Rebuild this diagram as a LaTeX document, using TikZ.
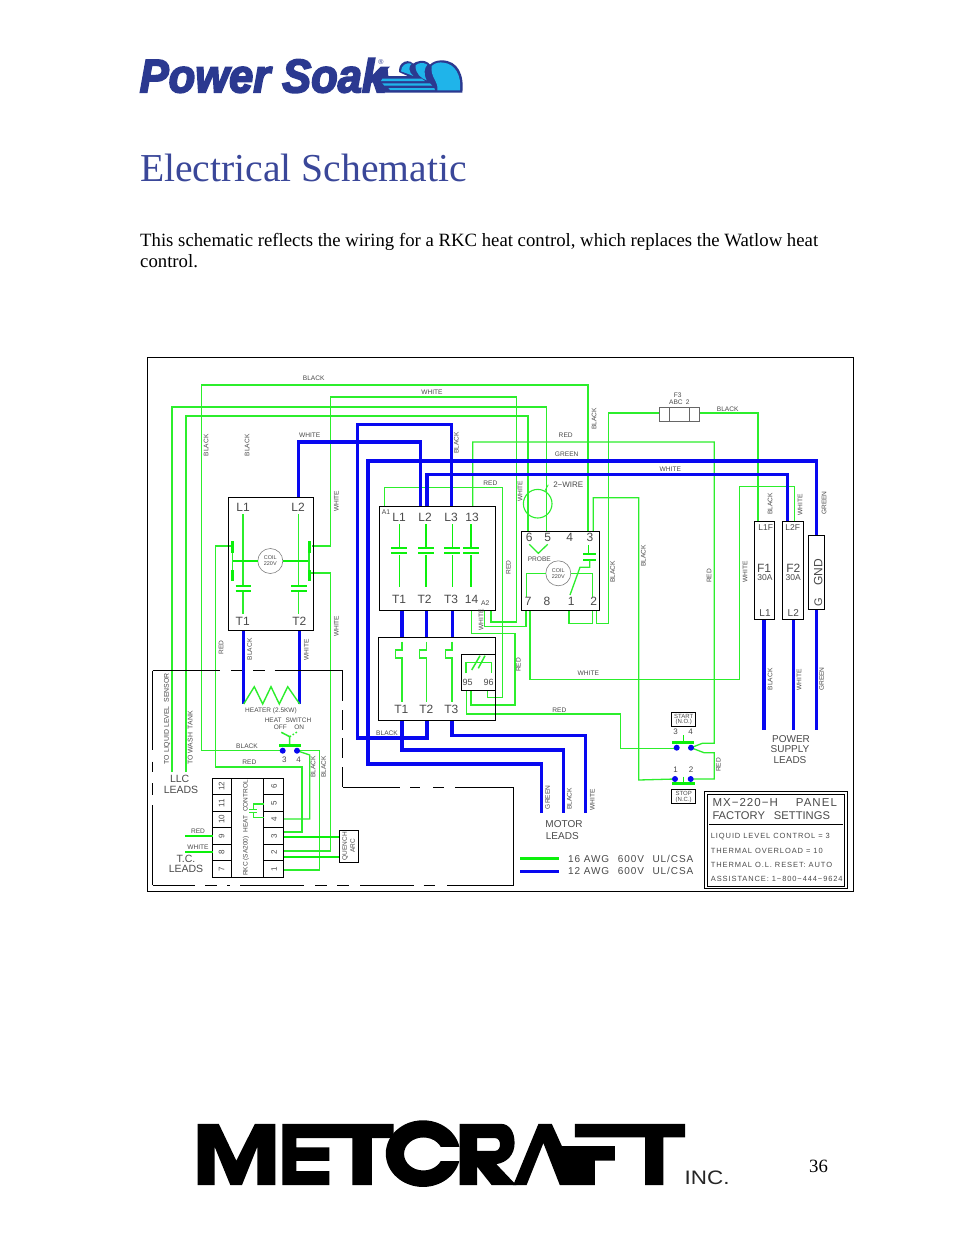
\documentclass[tikz,border=0pt]{standalone}
\usepackage{fontspec}
\setmainfont{Liberation Serif}
\newfontfamily\cad{Liberation Sans}
\newfontfamily\cadw[LetterSpace=9]{Liberation Sans}
\newfontfamily\cadm[LetterSpace=12]{Liberation Sans}
\newfontfamily\logof[FakeBold=4]{Liberation Sans}
\usetikzlibrary{fit}
\definecolor{wg}{HTML}{2CEE2C}
\definecolor{wt}{HTML}{0CF00C}
\definecolor{wb}{HTML}{0808F0}
\definecolor{tx}{HTML}{4A4A4A}
\definecolor{navy}{HTML}{2B3990}
\definecolor{cyanw}{HTML}{1FB4EA}
\definecolor{ttl}{HTML}{3A4799}
\newcounter{tn}
% small label, big label, wide label; optional first argument for extra options
\newcommand\Tx[4][]{\stepcounter{tn}\node (txt\arabic{tn}) [inner sep=0,text=tx,font={\cad\fontsize{#3}{#3}\selectfont},#1] at (#2) {#4};}
\newcommand\Lb[2]{\Tx{#1}{6.6}{#2}}
\newcommand\Lr[2]{\Tx[rotate=90]{#1}{6.6}{#2}}
\newcommand\Bg[2]{\Tx{#1}{12}{#2}}
\tikzset{
 w/.style={draw=wg,line width=1.3pt,line join=miter},
 wth/.style={draw=wt,line width=2.4pt},
 wbl/.style={draw=wb,line width=3.4pt,line join=miter},
 pole/.style={draw=wt,line width=1.5pt},
 bar/.style={draw=wt,line width=1.9pt},
 nc/.style={draw=wg,line width=1.1pt},
 pbox/.style={draw=black,line width=.9pt,inner sep=0,fill=none},
 dsh/.style={draw=black,line width=.8pt},
 coil/.style={draw=gray,line width=.6pt,circle,inner sep=0,minimum size=25pt,align=center,text=tx,font={\cad\fontsize{5.5}{6}\selectfont}},
 dot/.style={fill=wb,circle,inner sep=0,minimum size=6pt},
}
\begin{document}
\begin{tikzpicture}[x=1pt,y=-1pt]
\useasboundingbox (0,0) rectangle (954,1235);
\fill[white] (0,0) rectangle (954,1235);

% ---------- Power Soak logo
\node (plogo) [anchor=base west,inner sep=0,text=navy] at (139.5,92.3) {\logof\bfseries\itshape\fontsize{47}{47}\selectfont\scalebox{.925}[1]{Power Soak}};
\node (preg) [inner sep=0,text=navy,font={\cad\fontsize{7}{7}\selectfont}] at (381,62.5) {®};
\begin{scope}[shift={(375,52)},scale=.3333]
 \fill[navy] (5,122) -- (262,122) .. controls (268,70) and (250,25) .. (200,25)
   .. controls (185,25) and (172,30) .. (165,38) .. controls (158,28) and (145,25) .. (135,27)
   .. controls (125,28) and (118,32) .. (115,35) .. controls (105,25) and (90,25) .. (80,35)
   .. controls (72,43) and (72,55) .. (72,60) -- (98,72) -- (40,72) -- (38,50) -- (0,82) -- cycle;
 \fill[cyanw] (78,58) .. controls (78,40) and (95,30) .. (110,35) .. controls (100,42) and (100,60) .. (115,72) -- (100,66) -- cycle;
 \fill[cyanw] (122,40) .. controls (130,32) and (145,30) .. (157,38) .. controls (148,48) and (145,65) .. (155,85) .. controls (140,80) and (120,65) .. (122,40) -- cycle;
 \fill[cyanw] (170,42) .. controls (180,32) and (195,30) .. (205,32) .. controls (240,35) and (260,70) .. (255,115) -- (187,115) .. controls (192,90) and (165,75) .. (170,42) -- cycle;
 \fill[cyanw] (22,80) -- (140,80) -- (150,87) -- (18,87) -- cycle;
 \fill[cyanw] (22,94) -- (165,94) -- (172,101) -- (28,101) -- cycle;
 \fill[cyanw] (40,108) -- (178,108) -- (180,114) -- (45,114) -- cycle;
\end{scope}

% ---------- page text
\node (title) [anchor=base west,inner sep=0,text=ttl,font=\fontsize{39.6}{39.6}\selectfont] at (140,181) {Electrical Schematic};
\node (para1) [anchor=base west,inner sep=0,font=\fontsize{18.75}{18.75}\selectfont] at (140,246) {This schematic reflects the wiring for a RKC heat control, which replaces the Watlow heat};
\node (para2) [anchor=base west,inner sep=0,font=\fontsize{18.75}{18.75}\selectfont] at (140,267) {control.};
\node (pnum) [anchor=base west,inner sep=0,font=\fontsize{18.75}{18.75}\selectfont] at (809,1172.5) {36};

% ---------- Metcraft logo
\begin{scope}[shift={(190,1115)},scale=.3509]
 \fill[black,even odd rule] (664,110) ellipse [x radius=106,y radius=95] (665,111) ellipse [x radius=55,y radius=47];
 \fill[white] (695,91) -- (775,91) -- (775,131) -- (695,131) -- cycle;
 % M
 \fill[black] (22,25) -- (82,25) -- (132,130) -- (185,25) -- (243,25) -- (243,200) -- (192,200) -- (192,90) -- (148,200) -- (115,200) -- (70,90) -- (70,200) -- (22,200) -- cycle;
 % E and T
 \fill[black] (263,25) -- (580,25) -- (580,66) -- (518,66) -- (518,200) -- (463,200) -- (463,66) -- (303,66) -- (303,92) -- (397,92) -- (397,131) -- (303,131) -- (303,160) -- (397,160) -- (397,200) -- (263,200) -- cycle;
 % R
 \fill[black,even odd rule] (768,25) -- (885,25) .. controls (912,25) and (925,50) .. (925,80) .. controls (925,112) and (905,135) .. (873,140) -- (930,200) -- (860,200) -- (818,147) -- (818,200) -- (768,200) -- cycle
   (818,66) -- (870,66) .. controls (888,66) and (888,102) .. (870,102) -- (818,102) -- cycle;
 % A with the middle bar and the stem of F
 \fill[black] (921,200) -- (993,25) -- (1031,25) -- (1060,89) -- (1211,89) -- (1211,130) -- (1154,130) -- (1154,200) -- (1054,200) -- (1007,80) -- (959,200) -- cycle;
 % top bar of F and T
 \fill[black] (1097,25) -- (1411,25) -- (1411,64) -- (1349,64) -- (1349,200) -- (1297,200) -- (1297,64) -- (1097,64) -- cycle;
\end{scope}
\node (inc) [anchor=base west,inner sep=0,font={\cad\fontsize{19.5}{19.5}\selectfont},text=black!85] at (684.5,1184) {\scalebox{1.15}[1]{INC.}};

% ---------- frame
\node (frame) [fit={(147.5,357.5)(853.5,891)},draw=black,line width=.9pt,inner sep=0] {};

% ---------- terminals
\coordinate (sw3) at (282.7,750.7); \coordinate (sw4) at (297,750.7);
\coordinate (R6) at (528,531.3); \coordinate (R5) at (546.7,531.3); \coordinate (R3) at (588,531.3); \coordinate (R3b) at (593.3,531.3);
\coordinate (R7) at (526,610.3); \coordinate (R7b) at (530,610.3); \coordinate (R1) at (569,610.3); \coordinate (R2) at (592.7,610.3); \coordinate (R2b) at (596.7,610.3);
\coordinate (A1) at (384.3,506.7); \coordinate (C13) at (472.7,506.7); \coordinate (C14) at (471.7,610.3); \coordinate (A2) at (491,610.3); \coordinate (A2b) at (484.3,610.3);
\coordinate (O95) at (471,690.3); \coordinate (O95b) at (466.7,690.3); \coordinate (O96) at (487.7,690.3);
\coordinate (k4) at (283.7,819); \coordinate (k3) at (283.7,832); \coordinate (k3b) at (283.7,836.7); \coordinate (k2) at (283.7,851); \coordinate (k2b) at (283.7,856.7); \coordinate (k1) at (283.7,870);
\coordinate (st3) at (676.7,748.7); \coordinate (st4) at (691,747.7); \coordinate (sp1) at (675,779); \coordinate (sp2) at (690.7,779);
\coordinate (hL) at (232,546); \coordinate (hR) at (312,546); \coordinate (hR2) at (310,573);
\coordinate (lls) at (172,772); \coordinate (wtk) at (186,772);
\coordinate (F1t) at (758,521.3); \coordinate (F2t) at (794.3,521.3); \coordinate (F3l) at (659.3,413); \coordinate (F3r) at (699.3,413);

% ---------- thin green wires
\draw[w] (sw3) -- (201.5,750.7) -- (201.5,385) -- (588,385) -- (R3);
\draw[w] (lls) -- (172,407) -- (546.7,407) -- (R5);
\draw[w] (wtk) -- (186,416) -- (528,416) -- (R6);
\draw[w] (A2) -- (491,622) -- (516.7,622) -- (516.7,397) -- (330.7,397) -- (330.7,546) -- (hR);
\draw[w] (hL) -- (215.5,546) -- (215.5,767) -- (302,767) -- (302,832) -- (k3);
\draw[w] (hR2) -- (330.7,573) -- (330.7,851) -- (k2);
\draw[w] (F3l) -- (608.7,413) -- (608.7,623.7) -- (596.7,623.7) -- (R2b);
\draw[w] (F3r) -- (758,413) -- (F1t);
\draw[w] (R3b) -- (593.3,497.7) -- (638.7,497.7) -- (638.7,780) -- (sp1);
\draw[w] (R1) -- (569,623.7) -- (592.7,623.7) -- (R2);
\draw[w] (C13) -- (472.7,442) -- (714.3,442) -- (714.3,743.3) -- (702.3,743.3) -- (st4);
\draw[w] (st4) -- (704,752.7) -- (714.3,752.7) -- (714.3,779) -- (sp2);
\draw[w] (O96) -- (487.7,697.7) -- (502.3,697.7) -- (502.3,487.3) -- (384.3,487.3) -- (A1);
\draw[w] (C14) -- (471.7,633.3) -- (515,633.3) -- (515,705) -- (471,705) -- (O95);
\draw[w] (A2b) -- (484.3,626.7) -- (526,626.7) -- (R7);
\draw[w] (R7b) -- (530,679.3) -- (739.3,679.3) -- (739.3,486.3) -- (794.3,486.3) -- (F2t);
\draw[w] (O95b) -- (466.7,714) -- (620.7,714) -- (620.7,748.7) -- (st3);
\draw[w] (sw4) -- (309.7,755) -- (309.7,819) -- (k4);
\draw[w] (sw4) -- (319.3,750.7) -- (319.3,870) -- (k1);
% 2-wire probe
\node (pcirc) [draw=wg,line width=1.1pt,circle,inner sep=0,minimum size=28.6pt] at (537.7,503.7) {};
\coordinate (pl) at (548.3,484.7);
\draw[w,line width=.8pt] (pcirc) -- (pl);

% ---------- thick blue wires
\coordinate (K1T1) at (243.7,630.3); \coordinate (K1T2) at (299.7,630.3); \coordinate (K1L2) at (298.7,497.3);
\coordinate (KL1) at (420.3,506.7); \coordinate (KL2) at (427,506.7); \coordinate (KL3) at (451.3,506.7);
\coordinate (KT1) at (402,610.3); \coordinate (KT2) at (426.7,610.3); \coordinate (KT3) at (452.7,610.3);
\coordinate (OL1) at (402,637.3); \coordinate (OL2) at (426.7,637.3); \coordinate (OL3) at (452.7,637.3);
\coordinate (OT1) at (402,720); \coordinate (OT2) at (427,720); \coordinate (OT3) at (452,720);
\coordinate (gtop) at (816.7,535.3); \coordinate (gbot) at (816.7,609.3); \coordinate (f1b) at (764,619.3); \coordinate (f2b) at (793.3,619.3); \coordinate (f2t) at (787.7,521.3);
\coordinate (h1) at (243.7,704); \coordinate (h2) at (299.7,704);
\draw[wbl] (K1L2) -- (298.7,442) -- (420.3,442) -- (KL1);
\draw[wbl] (OT2) -- (427,738) -- (357.3,738) -- (357.3,424.7) -- (451.3,424.7) -- (KL3);
\draw[wbl] (541.7,813) -- (541.7,764) -- (368,764) -- (368,461) -- (816.7,461) -- (gtop);
\draw[wbl] (KL2) -- (427,474.5) -- (787.7,474.5) -- (f2t);
\draw[wbl] (OT1) -- (402,750) -- (563.3,750) -- (563.3,813);
\draw[wbl] (OT3) -- (452,735.7) -- (585.7,735.7) -- (585.7,813);
\draw[wbl] (K1T1) -- (h1);
\draw[wbl] (K1T2) -- (h2);
\draw[wbl] (KT1) -- (OL1);
\draw[wbl] (KT2) -- (OL2);
\draw[wbl] (KT3) -- (OL3);
\draw[wbl] (f1b) -- (764,729.5);
\draw[wbl] (f2b) -- (793.3,729.5);
\draw[wbl] (gbot) -- (816.7,729.5);

% ---------- heater
\draw[w,line width=1.4pt] (h1) -- (254.3,686.7) -- (262.7,704) -- (271,686.7) -- (279.3,704) -- (287.7,686.7) -- (h2);

% ---------- boxes
\node (boxA) [pbox,fit={(228.7,497.3)(313.3,630.3)}] {};
\node (boxB) [pbox,fit={(379.3,506.7)(495.3,610.3)}] {};
\node (boxC) [pbox,fit={(378.7,637.3)(495.3,720)}] {};
\node (boxO) [pbox,fit={(461.3,654.3)(495.3,690.3)}] {};
\node (boxR) [pbox,fit={(521.7,531.3)(599.3,610.3)}] {};
\node (fuse1) [pbox,fit={(754.3,521.3)(774.7,619.3)}] {};
\node (fuse2) [pbox,fit={(782.3,521.3)(803.3,619.3)}] {};
\node (gndb) [pbox,fit={(808.3,535.3)(824.7,609.3)}] {};
\node (f3a) [draw=gray!80!black,line width=.7pt,fit={(659.3,407.3)(669.3,421.3)},inner sep=0] {};
\node (f3b) [draw=gray!80!black,line width=.7pt,fit={(669.3,407.3)(689.3,421.3)},inner sep=0] {};
\node (f3c) [draw=gray!80!black,line width=.7pt,fit={(689.3,407.3)(699.3,421.3)},inner sep=0] {};

% ---------- contactor 1 (heater)
\foreach \x in {243,298.7} {
 \draw[nc] (\x,514.3) -- (\x,585);
 \draw[nc] (\x,592) -- (\x,614.3);
 \draw[bar] (\x-7.5,586) -- (\x+8,586);
 \draw[bar] (\x-7.5,591) -- (\x+8,591);
}
\node (coilA) [coil] at (270.3,561) {COIL\\220V};
\draw[pole] (coilA) -- (232.3,561);
\draw[pole] (coilA) -- (309,561);
\foreach \x in {232.3,309} {
 \draw[line width=3pt,draw=wt] (\x,541) -- (\x,553);
 \draw[nc] (\x,553) -- (\x,570.3);
 \draw[line width=3pt,draw=wt] (\x,570.3) -- (\x,581);
}

% ---------- contactor 2
\foreach \x in {399.3,426,452.3,471} {
 \draw[pole] (\x,524.3) -- (\x,546.7);
 \draw[pole] (\x,555) -- (\x,587.3);
}
\foreach \x in {399.3,426,452.3} {
 \draw[bar] (\x-8,548.3) -- (\x+8,548.3);
 \draw[bar] (\x-8,553.3) -- (\x+8,553.3);
}
\draw[bar] (463,548.3) -- (479,548.3);
\draw[bar] (463,553.3) -- (479,553.3);

% ---------- overload
\foreach \x in {402,426.3,452} {
 \draw[nc] (\x,641.7) -- (\x,650) -- (\x-6.5,650) -- (\x-6.5,658) -- (\x,658) -- (\x,701.7);
}
\draw[w] (466,673.3) -- (466,662.7) -- (491.7,662.7) -- (491.7,673.3);
\draw[w,line width=1.5pt] (471.7,670) -- (480,655.7);
\draw[w,line width=1.5pt] (478.3,668.3) -- (485,655.7);

% ---------- relay
\draw[pole] (588.3,545) -- (588.3,553.3);
\draw[bar] (583.3,554) -- (596,554);
\draw[bar] (583.3,560) -- (596,560);
\draw[w] (589.7,560) -- (589.7,567.3) -- (580,567.3) -- (570,595);
\draw[w] (529.3,544.3) -- (538.3,553.3) -- (547.7,544.3);
\node (coilR) [coil] at (558.3,573.3) {COIL\\220V};
\draw[w] (coilR) -- (526.7,573.3) -- (526.7,596.7);
\draw[w] (coilR) -- (592.3,573.3) -- (592.3,596.7);

% ---------- switches
\draw[w,line width=1.5pt] (289.7,745.7) -- (289.7,736.7) -- (281.3,732.3);
\draw[w,line width=1.5pt,dotted] (289.7,736.7) -- (297.5,731.7);
\draw[line width=3pt,draw=wt] (279.3,745.7) -- (301,745.7);
\draw[line width=1.4pt,draw=wt] (683.3,735) -- (683.3,742.3);
\draw[line width=2.8pt,draw=wt] (672.3,742.3) -- (694.3,742.3);
\draw[line width=1.4pt,draw=wt] (683.3,776.7) -- (683.3,783.3);
\draw[line width=2.8pt,draw=wt] (672.3,783.3) -- (695,783.3);
\node (d1) [dot] at (sw3) {};
\node (d2) [dot] at (sw4) {};
\node (d3) [dot] at (676.7,747.7) {};
\node (d4) [dot] at (st4) {};
\node (d5) [dot] at (sp1) {};
\node (d6) [dot] at (sp2) {};
\node (startb) [pbox,fit={(671.7,712.3)(695.7,726.3)},line width=.8pt] {};
\node (stopb) [pbox,fit={(671.7,789.3)(695.7,803.3)},line width=.8pt] {};

% ---------- RKC block
\node (rkc) [pbox,fit={(212.7,778.3)(283.7,877.3)}] {};
\coordinate (rk1) at (231.7,778.3); \coordinate (rk2) at (231.7,877.3);
\coordinate (rk3) at (263.7,778.3); \coordinate (rk4) at (263.7,877.3);
\draw[line width=.8pt] (rk1) -- (rk2);
\draw[line width=.8pt] (rk3) -- (rk4);
\foreach \y in {794.3,811.7,827.3,844.3,860.7} {
 \draw[line width=.8pt] (212.7,\y) -- (231.7,\y);
 \draw[line width=.8pt] (263.7,\y) -- (283.7,\y);
}
\draw[w] (263.7,804) -- (253.3,804) -- (253.3,809.7);
\draw[w] (253.3,812.3) -- (253.3,817.3) -- (263.7,817.3);
\draw[w,line width=1.3pt] (249.3,809.7) -- (257.3,809.7);
\draw[w,line width=1.3pt] (249.3,812.3) -- (257.3,812.3);
\coordinate (tcr) at (212.7,835.7); \coordinate (tcw) at (212.7,851.7);
\draw[wth] (185.3,835.7) -- (tcr);
\draw[wth] (185.3,851.7) -- (tcw);
\node (qbox) [pbox,fit={(339.3,830.3)(358.7,862.3)}] {};
\coordinate (q1) at (339.3,836.7); \coordinate (q2) at (339.3,856.7);
\draw[wth] (k3b) -- (q1);
\draw[wth] (k2b) -- (q2);

% ---------- dashed enclosure
\foreach \a/\b in {152.7/219.7,231/242,253/264.7,274.7/342.7} {\draw[dsh] (\a,670.7) -- (\b,670.7);}
\foreach \a/\b in {670.7/700.7,710/730,738/758,767/787.3} {\draw[dsh] (342.7,\a) -- (342.7,\b);}
\foreach \a/\b in {342.7/400,410/420,433/443.7,455/513.7} {\draw[dsh] (\a,787.3) -- (\b,787.3);}
\draw[dsh] (513.7,787.3) -- (513.7,885);
\foreach \a/\b in {152.7/195.3,205.3/217,227/230,240.3/303.7,315.3/327,337/348.7,360.3/413.7,423.7/435.3,447/513.7} {\draw[dsh] (\a,885) -- (\b,885);}
\foreach \a/\b in {670.7/750,761.7/771.7,783/795,805/885} {\draw[dsh] (152.7,\a) -- (152.7,\b);}

% ---------- legend
\coordinate (lg1) at (520,858.7); \coordinate (lg2) at (559,858.7); \coordinate (lb1) at (520,871.7); \coordinate (lb2) at (559,871.7);
\draw[wth,line width=2.6pt] (lg1) -- (lg2);
\draw[wbl] (lb1) -- (lb2);

% ---------- settings box
\node (setO) [pbox,fit={(704.3,791.7)(847.7,888.3)}] {};
\node (setI) [pbox,fit={(707.3,794.3)(844.3,886)}] {};
\coordinate (sl1) at (709.3,824.3); \coordinate (sl2) at (842.7,824.3);
\draw[line width=.8pt] (sl1) -- (sl2);
\Tx[anchor=west,font={\cadw\fontsize{11.5}{11.5}\selectfont}]{712.3,803}{11.5}{MX−220−H\hspace{18pt}PANEL}
\Tx[anchor=west]{712.3,815.7}{11.2}{FACTORY\hspace{9pt}SETTINGS}
\Tx[anchor=west,font={\cadm\fontsize{7.5}{7.5}\selectfont}]{710.7,836.7}{7.5}{LIQUID LEVEL CONTROL = 3}
\Tx[anchor=west,font={\cadm\fontsize{7.5}{7.5}\selectfont}]{710.7,851}{7.5}{THERMAL OVERLOAD = 10}
\Tx[anchor=west,font={\cadm\fontsize{7.5}{7.5}\selectfont}]{710.7,865}{7.5}{THERMAL O.L. RESET: AUTO}
\Tx[anchor=west,font={\cadm\fontsize{7.5}{7.5}\selectfont}]{710.7,879}{7.5}{ASSISTANCE: 1−800−444−9624}

% ---------- big labels
\Bg{243,507.7}{L1}\Bg{298,507.7}{L2}\Bg{242.7,621}{T1}\Bg{299.3,621}{T2}
\Bg{399,517.3}{L1}\Bg{425,517.3}{L2}\Bg{451,517.3}{L3}\Bg{472,517.3}{13}
\Bg{399,599}{T1}\Bg{424.5,599}{T2}\Bg{451,599}{T3}\Bg{471.5,599}{14}
\Bg{401.3,709.3}{T1}\Bg{426.3,709.3}{T2}\Bg{451.3,709.3}{T3}
\Tx{386,512.3}{6.8}{A1}\Tx{485.3,602.7}{6.8}{A2}
\Tx{467.7,682.3}{9}{95}\Tx{488.7,682.3}{9}{96}
\Bg{529.3,537.7}{6}\Bg{547.7,537.7}{5}\Bg{569.7,537.7}{4}\Bg{590,537.7}{3}
\Bg{528.3,601.7}{7}\Bg{547,601.7}{8}\Bg{571.3,601.7}{1}\Bg{593.7,601.7}{2}
\Lb{539.3,559}{PROBE}
\Tx{568.3,484.7}{8}{2−WIRE}
\Lb{677.7,395.3}{F3}\Lb{679.3,402}{ABC\hspace{3pt}2}
\Tx{765.7,528}{8.5}{L1F}\Tx{792.7,528}{8.5}{L2F}
\Bg{764,568}{F1}\Tx{765,578}{8.5}{30A}\Bg{793.3,568}{F2}\Tx{793.3,578}{8.5}{30A}
\Tx{765,612.7}{10}{L1}\Tx{793.3,612.7}{10}{L2}
\Tx[rotate=90]{818.3,572}{12}{GND}\Tx[rotate=90]{818.3,602}{11}{G}
\Tx{271,711}{6.5}{HEATER (2.5KW)}
\Tx{288,720.7}{6.5}{HEAT\hspace{4pt}SWITCH}
\Tx{280.3,727.7}{6.5}{OFF}\Tx{299.3,727.7}{6.5}{ON}
\Tx{284.3,760}{8}{3}\Tx{298.7,760}{8}{4}
\Tx{675.7,732}{8}{3}\Tx{690.7,732}{8}{4}
\Tx{675.7,770}{8}{1}\Tx{691,770}{8}{2}
\Tx{683.7,716}{6}{START}\Tx{683.7,722.3}{6}{(N.O.)}
\Tx{683.7,793.5}{6}{STOP}\Tx{683.7,799.5}{6}{(N.C.)}
\Tx{179.7,779}{10.5}{LLC}\Tx{181,790}{10.5}{LEADS}
\Tx{186,859.3}{10.5}{T.C.}\Tx{186,869.3}{10.5}{LEADS}
\Tx{791,739.3}{10}{POWER}\Tx{790,749.3}{10}{SUPPLY}\Tx{790,760}{10}{LEADS}
\Tx{564,824}{10}{MOTOR}\Tx{562.3,836}{10}{LEADS}
\Tx[anchor=west,font={\cadw\fontsize{10}{10}\selectfont}]{568,858.7}{10}{16 AWG\hspace{5pt} 600V\hspace{5pt} UL/CSA}
\Tx[anchor=west,font={\cadw\fontsize{10}{10}\selectfont}]{568,870.7}{10}{12 AWG\hspace{5pt} 600V\hspace{5pt} UL/CSA}
\Tx[rotate=90]{167,718.7}{6.9}{TO LIQUID LEVEL\hspace{2pt} SENSOR}
\Tx[rotate=90]{190.3,738}{6.9}{TO WASH\hspace{2pt} TANK}
\Tx[rotate=90]{246,828}{6.5}{RKC (SA200)\hspace{2pt} HEAT\hspace{2pt} CONTROL}
\Tx[rotate=90,align=center,font={\cad\fontsize{6.5}{8}\selectfont}]{348.7,846}{6.5}{QUENCH\\ARC}
\foreach \t/\y in {12/786.3,11/803,10/819.5,9/835.8,8/852.5,7/869} {\Tx[rotate=90]{221.5,\y}{8}{\t}}
\foreach \t/\y in {6/786.3,5/803,4/819.5,3/835.8,2/852.5,1/869} {\Tx[rotate=90]{274,\y}{8}{\t}}

% ---------- wire labels
\Lb{313.7,378}{BLACK}\Lb{432,392}{WHITE}\Lb{309.7,435.7}{WHITE}\Lb{490.3,483.7}{RED}
\Lb{727.7,409.3}{BLACK}\Lb{565.7,435.7}{RED}\Lb{566.7,454}{GREEN}\Lb{670.3,469.7}{WHITE}
\Lb{588.3,673.3}{WHITE}\Lb{559.3,710.7}{RED}\Lb{387,733}{BLACK}\Lb{247,746.7}{BLACK}\Lb{249.3,762.3}{RED}
\Lb{198,831.7}{RED}\Lb{198,847.7}{WHITE}
\Lr{206,445.3}{BLACK}\Lr{247,445.3}{BLACK}\Lr{456.3,443}{BLACK}\Lr{336.3,501.3}{WHITE}\Lr{336.3,626.3}{WHITE}
\Lr{594,418.7}{BLACK}\Lr{520,491.3}{WHITE}\Lr{824,503}{GREEN}\Lr{800,504.7}{WHITE}\Lr{770,503.7}{BLACK}
\Lr{508.3,567.7}{RED}\Lr{612.7,572}{BLACK}\Lr{643.3,556}{BLACK}\Lr{709,576}{RED}\Lr{745,572}{WHITE}
\Lr{481,620}{WHITE}\Lr{518.3,665}{RED}
\Lr{249.7,649.3}{BLACK}\Lr{306.3,650}{WHITE}\Lr{221,647.3}{RED}
\Lr{313,766.7}{BLACK}\Lr{323.7,766.7}{BLACK}
\Lr{770,679.3}{BLACK}\Lr{799,680}{WHITE}\Lr{821.7,679}{GREEN}
\Lr{547.7,797.3}{GREEN}\Lr{569.3,799}{BLACK}\Lr{592.3,800}{WHITE}\Lr{718.3,765}{RED}
\end{tikzpicture}
\end{document}
